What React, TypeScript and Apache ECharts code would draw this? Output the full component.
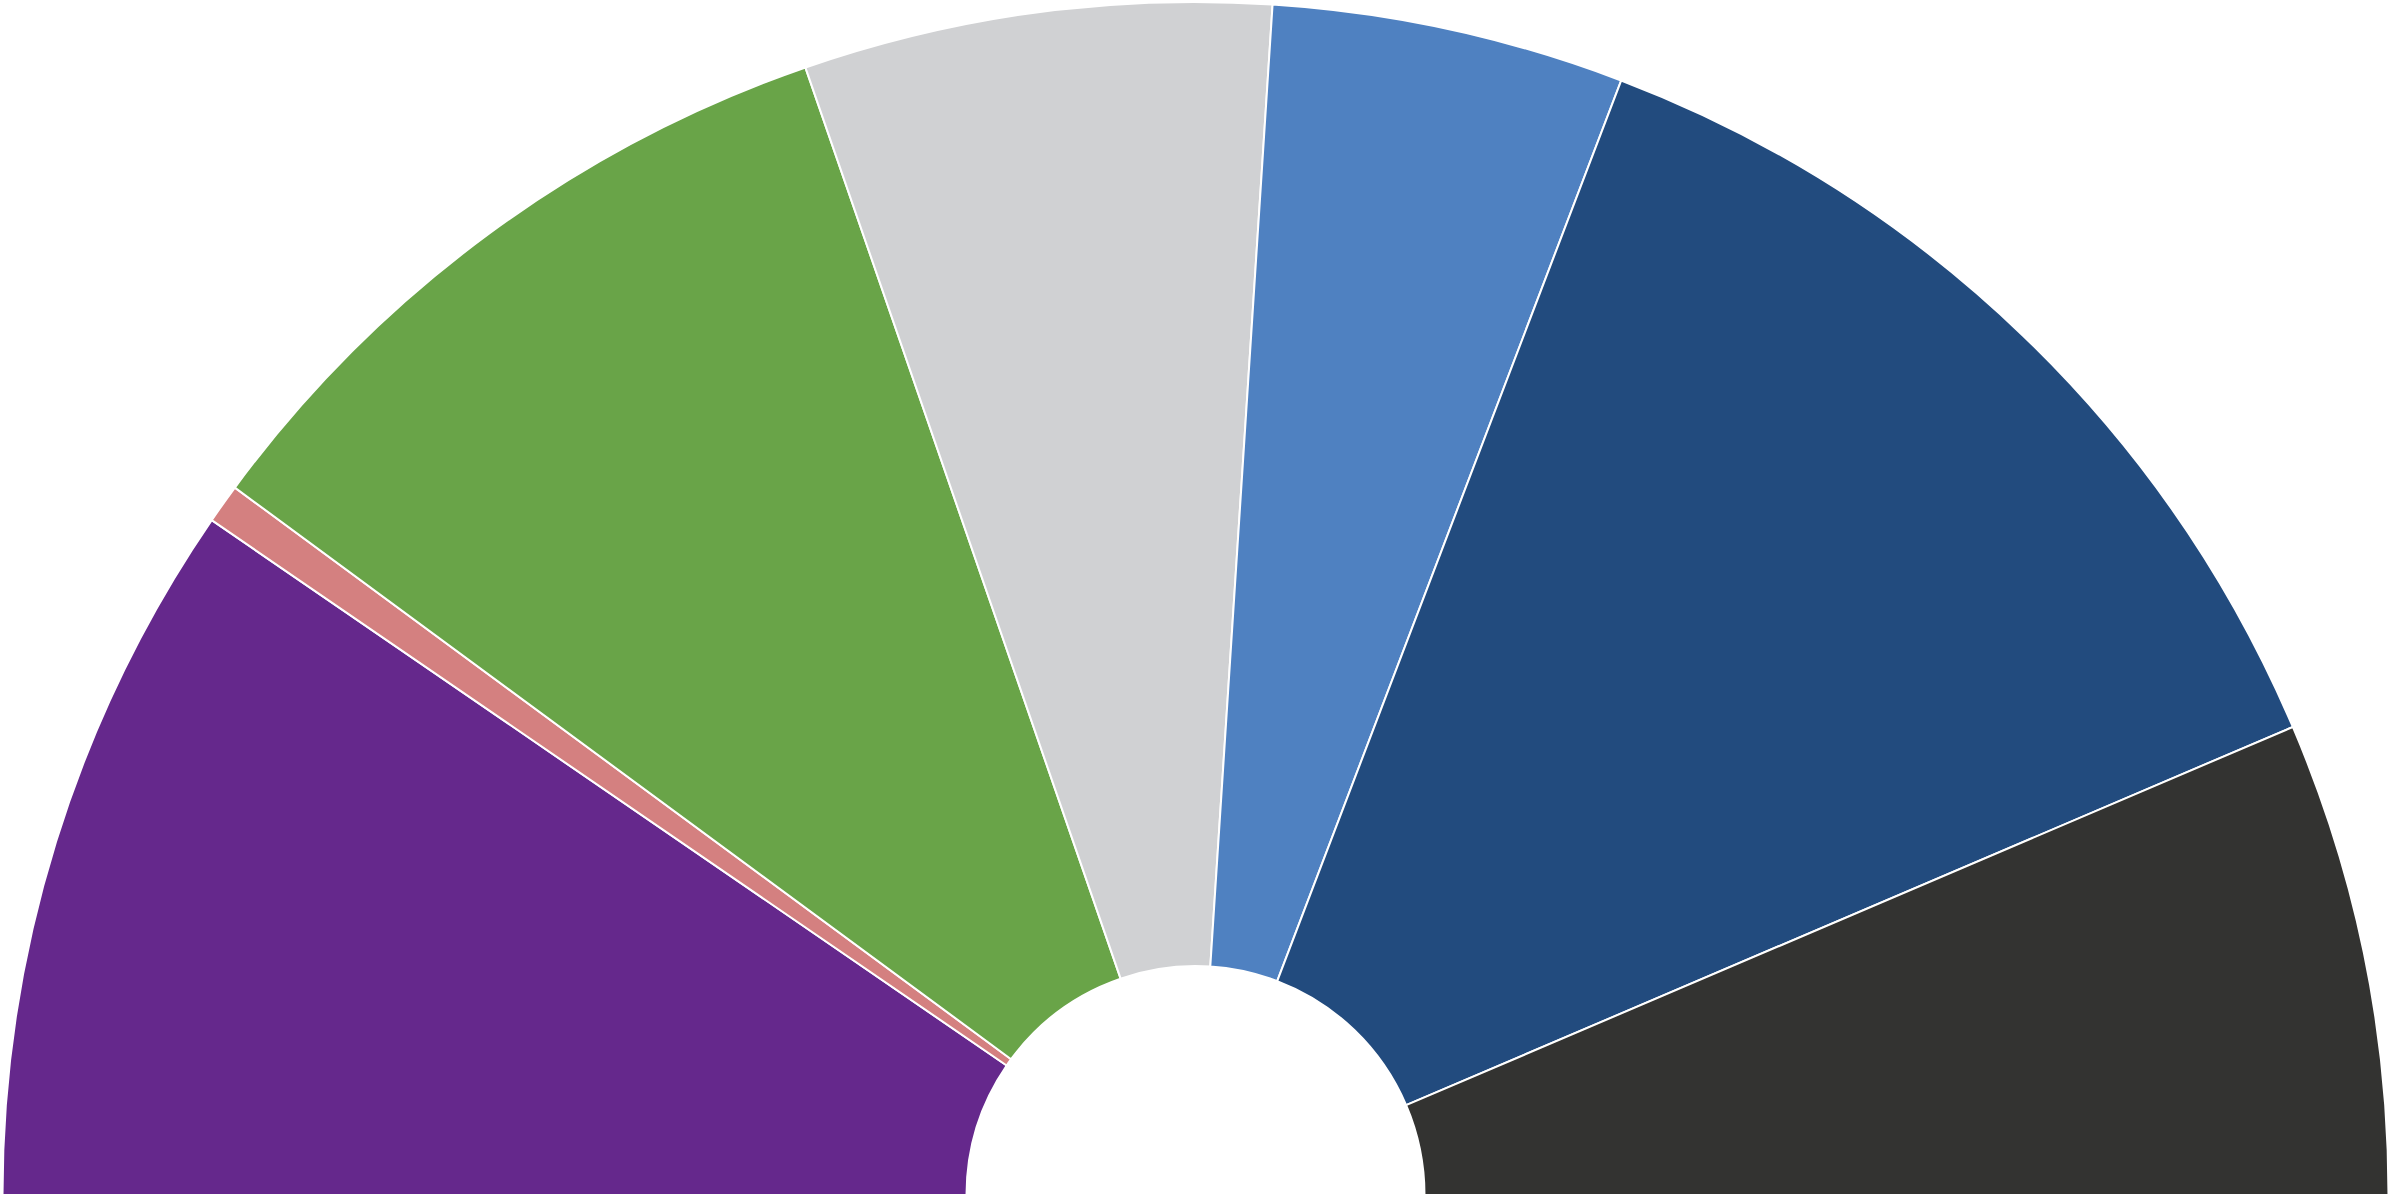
import React, { useEffect, useRef } from "react";
import * as echarts from "echarts";

const categories = ["Purple", "Pink", "Green", "Grey", "Light blue", "Dark blue", "Dark grey"];
const values = [34.45, 1.92, 34.55, 22.79, 17.2, 46.0, 23.1];
const colors = ["#65288c", "#d48080", "#69a448", "#d0d1d3", "#4f81c1", "#224b7e", "#333331"];

export default function App() {
  const ref = useRef<HTMLDivElement>(null);
  useEffect(() => {
    document.body.style.margin = "0";
    const chart = echarts.init(ref.current!, null, { renderer: "svg" });
    chart.setOption({
      animation: false,
      backgroundColor: "#ffffff",
      series: [
        {
          type: "pie",
          center: [1195.5, 1195],
          radius: [229, 1193],
          startAngle: 180,
          endAngle: 0,
          clockwise: true,
          silent: true,
          avoidLabelOverlap: false,
          label: { show: false },
          labelLine: { show: false },
          itemStyle: { borderColor: "#ffffff", borderWidth: 2 },
          data: categories.map((name, i) => ({
            name,
            value: values[i],
            itemStyle: { color: colors[i] },
          })),
        },
      ],
    });
    return () => chart.dispose();
  }, []);
  return (
    <div
      ref={ref}
      style={{ position: "fixed", left: 0, top: 0, width: 2391, height: 1196 }}
    />
  );
}
